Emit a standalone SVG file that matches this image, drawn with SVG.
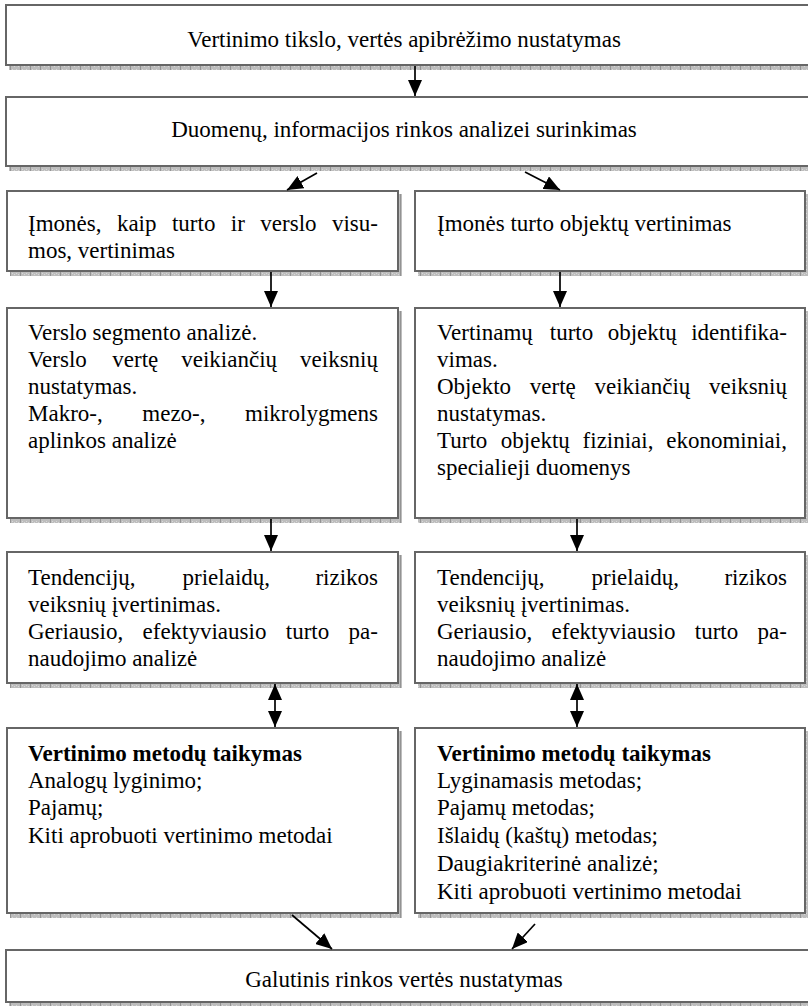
<svg xmlns="http://www.w3.org/2000/svg" width="808" height="1006" viewBox="0 0 808 1006">
<defs>
<pattern id="shade" width="10" height="4" patternUnits="userSpaceOnUse">
<rect width="10" height="4" fill="#bdbdbd"/>
<rect x="0" y="0" width="1" height="4" fill="#939393"/>
<rect x="2" y="1" width="1" height="1" fill="#d8d8d8"/>
<rect x="4" y="2" width="1" height="1" fill="#d8d8d8"/>
<rect x="6" y="1" width="1" height="1" fill="#d8d8d8"/>
<rect x="8" y="2" width="1" height="1" fill="#d8d8d8"/>
</pattern>
<marker id="ah" viewBox="0 0 16 14" markerWidth="16" markerHeight="14" refX="16" refY="7" orient="auto-start-reverse" markerUnits="userSpaceOnUse">
<path d="M0,0 L16,7 L0,14 z" fill="#000"/>
</marker>
</defs>
<style>
.box{fill:#fff;stroke:#666;stroke-width:2}
.sh{fill:url(#shade)}
text{font-family:"Liberation Serif","Times New Roman",serif;font-size:23px;fill:#000}
.c{text-anchor:middle}
.b{font-weight:bold}
.con{stroke:#000;stroke-width:1.7;fill:none}
</style>
<rect width="808" height="1006" fill="#fff"/>

<g id="n1">
<rect class="sh" x="9" y="66" width="810" height="4"/>
<rect class="box" x="6" y="5" width="812" height="60"/>
<text class="c" x="404" y="47">Vertinimo tikslo, vertės apibrėžimo nustatymas</text>
</g>

<g id="n2">
<rect class="sh" x="9" y="167" width="810" height="4"/>
<rect class="box" x="6" y="97" width="812" height="69"/>
<text class="c" x="404" y="137">Duomenų, informacijos rinkos analizei surinkimas</text>
</g>

<g id="n3L">
<rect class="sh" x="10" y="272" width="392" height="4"/>
<rect class="sh" x="399" y="194" width="3" height="80"/>
<rect class="box" x="7" y="191" width="391" height="80"/>
<text y="231"><tspan x="28">Įmonės,</tspan><tspan x="116.9">kaip</tspan><tspan x="171.95">turto</tspan><tspan x="230.84">ir</tspan><tspan x="260.33">verslo</tspan><tspan x="331.98">visu-</tspan></text>
<text x="28" y="258">mos, vertinimas</text>
</g>

<g id="n3R">
<rect class="sh" x="418" y="272" width="391" height="4"/>
<rect class="sh" x="806" y="194" width="3" height="80"/>
<rect class="box" x="415" y="191" width="390" height="80"/>
<text x="437" y="231">Įmonės turto objektų vertinimas</text>
</g>

<g id="n4L">
<rect class="sh" x="10" y="519" width="392" height="4"/>
<rect class="sh" x="399" y="311" width="3" height="210"/>
<rect class="box" x="7" y="308" width="391" height="210"/>
<text x="28" y="340">Verslo segmento analizė.</text>
<text y="367"><tspan x="28">Verslo</tspan><tspan x="112.3">vertę</tspan><tspan x="181.26">veikiančių</tspan><tspan x="300.06">veiksnių</tspan></text>
<text x="28" y="394">nustatymas.</text>
<text y="421"><tspan x="28">Makro-,</tspan><tspan x="142.3">mezo-,</tspan><tspan x="245.1">mikrolygmens</tspan></text>
<text x="28" y="448">aplinkos analizė</text>
</g>

<g id="n4R">
<rect class="sh" x="418" y="519" width="391" height="4"/>
<rect class="sh" x="806" y="311" width="3" height="210"/>
<rect class="box" x="415" y="308" width="390" height="210"/>
<text y="340"><tspan x="437">Vertinamų</tspan><tspan x="549.82">turto</tspan><tspan x="607.72">objektų</tspan><tspan x="691.17">identifika-</tspan></text>
<text x="437" y="367">vimas.</text>
<text y="394"><tspan x="437">Objekto</tspan><tspan x="529.82">vertę</tspan><tspan x="594.51">veikiančių</tspan><tspan x="709.04">veiksnių</tspan></text>
<text x="437" y="421">nustatymas.</text>
<text y="448"><tspan x="437">Turto</tspan><tspan x="500.85">objektų</tspan><tspan x="582.59">fiziniai,</tspan><tspan x="666.24">ekonominiai,</tspan></text>
<text x="437" y="475">specialieji duomenys</text>
</g>

<g id="n5L">
<rect class="sh" x="10" y="684" width="392" height="4"/>
<rect class="sh" x="399" y="555" width="3" height="131"/>
<rect class="box" x="7" y="552" width="391" height="131"/>
<text y="585"><tspan x="28">Tendencijų,</tspan><tspan x="182.55">prielaidų,</tspan><tspan x="315.39">rizikos</tspan></text>
<text x="28" y="612">veiksnių įvertinimas.</text>
<text y="639"><tspan x="28">Geriausio,</tspan><tspan x="142.53">efektyviausio</tspan><tspan x="285.81">turto</tspan><tspan x="348.62">pa-</tspan></text>
<text x="28" y="666">naudojimo analizė</text>
</g>

<g id="n5R">
<rect class="sh" x="418" y="684" width="391" height="4"/>
<rect class="sh" x="806" y="555" width="3" height="131"/>
<rect class="box" x="415" y="552" width="390" height="131"/>
<text y="585"><tspan x="437">Tendencijų,</tspan><tspan x="591.55">prielaidų,</tspan><tspan x="724.39">rizikos</tspan></text>
<text x="437" y="612">veiksnių įvertinimas.</text>
<text y="639"><tspan x="437">Geriausio,</tspan><tspan x="551.53">efektyviausio</tspan><tspan x="694.81">turto</tspan><tspan x="757.62">pa-</tspan></text>
<text x="437" y="666">naudojimo analizė</text>
</g>

<g id="n6L">
<rect class="sh" x="10" y="914" width="392" height="4"/>
<rect class="sh" x="399" y="731" width="3" height="185"/>
<rect class="box" x="7" y="728" width="391" height="185"/>
<text class="b" x="28" y="761">Vertinimo metodų taikymas</text>
<text x="28" y="788">Analogų lyginimo;</text>
<text x="28" y="815">Pajamų;</text>
<text x="28" y="843">Kiti aprobuoti vertinimo metodai</text>
</g>

<g id="n6R">
<rect class="sh" x="418" y="914" width="391" height="4"/>
<rect class="sh" x="806" y="731" width="3" height="185"/>
<rect class="box" x="415" y="728" width="390" height="185"/>
<text class="b" x="437" y="761">Vertinimo metodų taikymas</text>
<text x="437" y="788">Lyginamasis metodas;</text>
<text x="437" y="815">Pajamų metodas;</text>
<text x="437" y="843">Išlaidų (kaštų) metodas;</text>
<text x="437" y="871">Daugiakriterinė analizė;</text>
<text x="437" y="899">Kiti aprobuoti vertinimo metodai</text>
</g>

<g id="n7">
<rect class="sh" x="9" y="1003" width="810" height="4"/>
<rect class="box" x="6" y="950" width="812" height="52"/>
<text class="c" x="404" y="987">Galutinis rinkos vertės nustatymas</text>
</g>

<g id="connectors">
<line class="con" x1="415" y1="66" x2="415" y2="96" marker-end="url(#ah)"/>
<line class="con" x1="317" y1="173" x2="287" y2="190" marker-end="url(#ah)"/>
<line class="con" x1="525" y1="172" x2="560" y2="190" marker-end="url(#ah)"/>
<line class="con" x1="271" y1="272" x2="271" y2="307" marker-end="url(#ah)"/>
<line class="con" x1="560" y1="272" x2="560" y2="307" marker-end="url(#ah)"/>
<line class="con" x1="271" y1="519" x2="271" y2="551" marker-end="url(#ah)"/>
<line class="con" x1="577" y1="519" x2="577" y2="551" marker-end="url(#ah)"/>
<line class="con" x1="275" y1="684" x2="275" y2="727" marker-start="url(#ah)" marker-end="url(#ah)"/>
<line class="con" x1="577" y1="684" x2="577" y2="727" marker-start="url(#ah)" marker-end="url(#ah)"/>
<line class="con" x1="292" y1="915" x2="332" y2="949" marker-end="url(#ah)"/>
<line class="con" x1="535" y1="924" x2="512" y2="949" marker-end="url(#ah)"/>
</g>
</svg>
